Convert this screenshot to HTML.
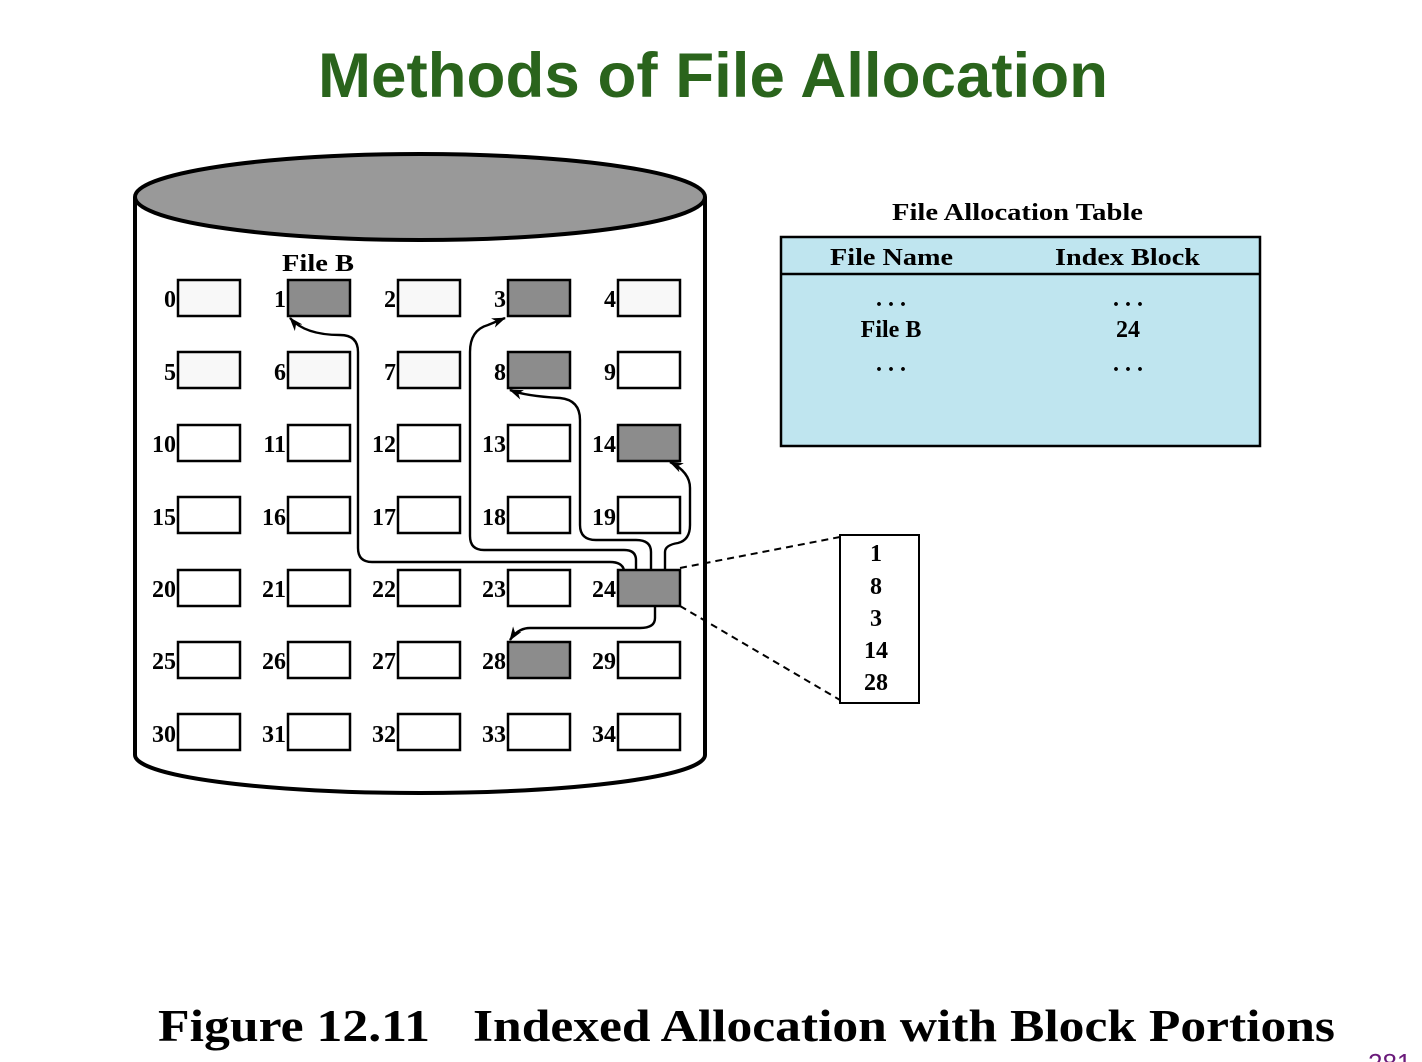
<!DOCTYPE html>
<html><head><meta charset="utf-8"><style>
html,body{margin:0;padding:0;background:#fff;width:1422px;height:1062px;overflow:hidden;}
</style></head><body>
<svg width="1422" height="1062" viewBox="0 0 1422 1062" xmlns="http://www.w3.org/2000/svg">
<defs><marker id="ah" markerWidth="14" markerHeight="10" refX="13" refY="5" orient="auto" markerUnits="userSpaceOnUse"><path d="M0,0 L14,5 L0,10 L4,5 Z" fill="#000"/></marker></defs>
<text x="318" y="97" textLength="790" lengthAdjust="spacingAndGlyphs" font-family="Liberation Sans, sans-serif" font-weight="bold" font-size="63" fill="#2a641c">Methods of File Allocation</text>
<!-- cylinder -->
<path d="M135,197 L135,755 A285,38 0 0 0 705,755 L705,197" fill="#fff" stroke="#000" stroke-width="4"/>
<ellipse cx="420" cy="197" rx="285" ry="43" fill="#999" stroke="#000" stroke-width="4"/>
<text x="282" y="271" textLength="72" lengthAdjust="spacingAndGlyphs" font-family="Liberation Serif, serif" font-weight="bold" font-size="24">File B</text>
<g fill="none" stroke="#000" stroke-width="2.5">
<rect x="178" y="280" width="62" height="36" fill="#f8f8f8"/><rect x="288" y="280" width="62" height="36" fill="#8c8c8c"/><rect x="398" y="280" width="62" height="36" fill="#f8f8f8"/><rect x="508" y="280" width="62" height="36" fill="#8c8c8c"/><rect x="618" y="280" width="62" height="36" fill="#f8f8f8"/>
<rect x="178" y="352" width="62" height="36" fill="#f8f8f8"/><rect x="288" y="352" width="62" height="36" fill="#f8f8f8"/><rect x="398" y="352" width="62" height="36" fill="#f8f8f8"/><rect x="508" y="352" width="62" height="36" fill="#8c8c8c"/><rect x="618" y="352" width="62" height="36" fill="#fff"/>
<rect x="178" y="425" width="62" height="36" fill="#fff"/><rect x="288" y="425" width="62" height="36" fill="#fff"/><rect x="398" y="425" width="62" height="36" fill="#fff"/><rect x="508" y="425" width="62" height="36" fill="#fff"/><rect x="618" y="425" width="62" height="36" fill="#8c8c8c"/>
<rect x="178" y="497" width="62" height="36" fill="#fff"/><rect x="288" y="497" width="62" height="36" fill="#fff"/><rect x="398" y="497" width="62" height="36" fill="#fff"/><rect x="508" y="497" width="62" height="36" fill="#fff"/><rect x="618" y="497" width="62" height="36" fill="#fff"/>
<rect x="178" y="570" width="62" height="36" fill="#fff"/><rect x="288" y="570" width="62" height="36" fill="#fff"/><rect x="398" y="570" width="62" height="36" fill="#fff"/><rect x="508" y="570" width="62" height="36" fill="#fff"/><rect x="618" y="570" width="62" height="36" fill="#8c8c8c"/>
<rect x="178" y="642" width="62" height="36" fill="#fff"/><rect x="288" y="642" width="62" height="36" fill="#fff"/><rect x="398" y="642" width="62" height="36" fill="#fff"/><rect x="508" y="642" width="62" height="36" fill="#8c8c8c"/><rect x="618" y="642" width="62" height="36" fill="#fff"/>
<rect x="178" y="714" width="62" height="36" fill="#fff"/><rect x="288" y="714" width="62" height="36" fill="#fff"/><rect x="398" y="714" width="62" height="36" fill="#fff"/><rect x="508" y="714" width="62" height="36" fill="#fff"/><rect x="618" y="714" width="62" height="36" fill="#fff"/>
</g>
<g font-family="Liberation Serif, serif" font-weight="bold" font-size="24" text-anchor="end">
<text x="176" y="307">0</text><text x="286" y="307">1</text><text x="396" y="307">2</text><text x="506" y="307">3</text><text x="616" y="307">4</text>
<text x="176" y="380">5</text><text x="286" y="380">6</text><text x="396" y="380">7</text><text x="506" y="380">8</text><text x="616" y="380">9</text>
<text x="176" y="452">10</text><text x="286" y="452">11</text><text x="396" y="452">12</text><text x="506" y="452">13</text><text x="616" y="452">14</text>
<text x="176" y="525">15</text><text x="286" y="525">16</text><text x="396" y="525">17</text><text x="506" y="525">18</text><text x="616" y="525">19</text>
<text x="176" y="597">20</text><text x="286" y="597">21</text><text x="396" y="597">22</text><text x="506" y="597">23</text><text x="616" y="597">24</text>
<text x="176" y="669">25</text><text x="286" y="669">26</text><text x="396" y="669">27</text><text x="506" y="669">28</text><text x="616" y="669">29</text>
<text x="176" y="742">30</text><text x="286" y="742">31</text><text x="396" y="742">32</text><text x="506" y="742">33</text><text x="616" y="742">34</text>
</g>
<g fill="none" stroke="#000" stroke-width="2.4" marker-end="url(#ah)">
<path d="M624,570 Q622,562 610,562 L372,562 Q358,562 358,548 L358,352 Q358,335 340,335 Q305,335 290,318"/>
<path d="M636,570 L636,560 Q636,550 624,550 L484,550 Q470,550 470,536 L470,352 Q470,330 488,325 L505,318"/>
<path d="M651,570 L651,552 Q651,540 636,540 L596,540 Q580,540 580,525 L580,420 Q580,400 560,398 Q525,396 510,390"/>
<path d="M665,570 L665,552 Q665,545 678,543 Q690,540 690,525 L690,488 Q690,472 670,462"/>
<path d="M655,606 L655,618 Q655,628 640,628 L530,628 Q518,628 510,640"/>
</g>
<g stroke="#000" stroke-width="2" stroke-dasharray="7,5" fill="none">
<line x1="680" y1="568" x2="840" y2="537"/><line x1="680" y1="606" x2="840" y2="700"/>
</g>
<rect x="840" y="535" width="79" height="168" fill="#fff" stroke="#000" stroke-width="2"/>
<g font-family="Liberation Serif, serif" font-weight="bold" font-size="24" text-anchor="middle">
<text x="876" y="561">1</text><text x="876" y="594">8</text><text x="876" y="626">3</text><text x="876" y="658">14</text><text x="876" y="690">28</text>
</g>
<text x="892" y="220" textLength="251" lengthAdjust="spacingAndGlyphs" font-family="Liberation Serif, serif" font-weight="bold" font-size="24">File Allocation Table</text>
<rect x="781" y="237" width="479" height="209" fill="#bfe5ef" stroke="#000" stroke-width="2.5"/>
<line x1="781" y1="274" x2="1260" y2="274" stroke="#000" stroke-width="2.5"/>
<g font-family="Liberation Serif, serif" font-weight="bold" font-size="24">
<text x="830" y="265" textLength="123" lengthAdjust="spacingAndGlyphs">File Name</text>
<text x="1055" y="265" textLength="145" lengthAdjust="spacingAndGlyphs">Index Block</text>
</g>
<g font-family="Liberation Serif, serif" font-weight="bold" font-size="24" text-anchor="middle">
<text x="891" y="306">. . .</text><text x="1128" y="306">. . .</text>
<text x="891" y="337">File B</text><text x="1128" y="337">24</text>
<text x="891" y="371">. . .</text><text x="1128" y="371">. . .</text>
</g>
<g font-family="Liberation Serif, serif" font-weight="bold" font-size="45">
<text x="158" y="1041" textLength="272" lengthAdjust="spacingAndGlyphs">Figure 12.11</text>
<text x="473" y="1041" textLength="862" lengthAdjust="spacingAndGlyphs">Indexed Allocation with Block Portions</text>
</g>
<text x="1368" y="1072" font-family="Liberation Sans, sans-serif" font-size="26" fill="#6a1a7a">281</text>
</svg>
</body></html>
